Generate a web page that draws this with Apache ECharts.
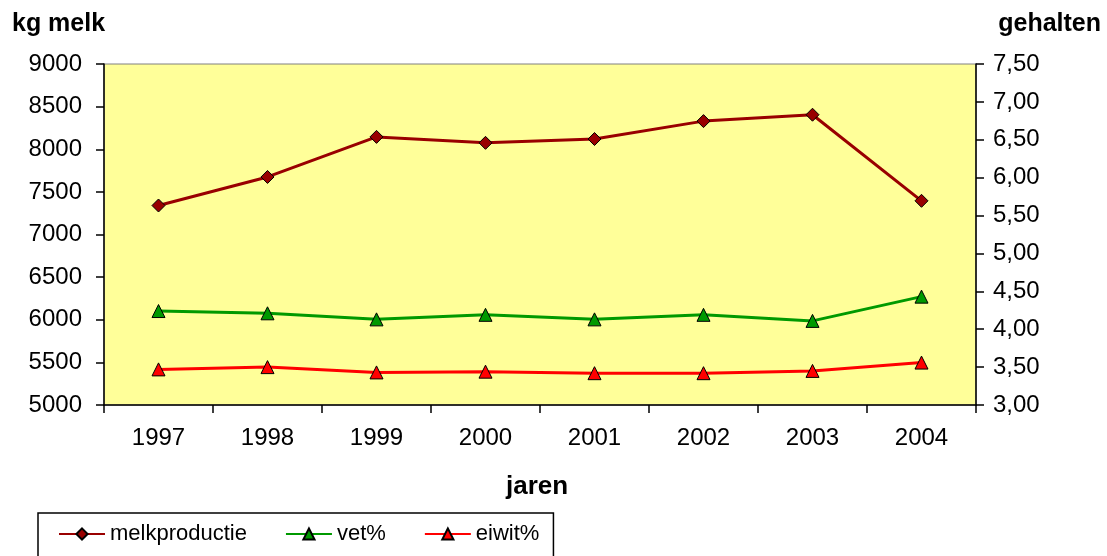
<!DOCTYPE html>
<html>
<head>
<meta charset="utf-8">
<script src="https://cdn.jsdelivr.net/npm/echarts@6/dist/echarts.min.js"></script>
<style>
html,body{margin:0;padding:0;background:#fff;}
#c{width:1107px;height:556px;}
</style>
</head>
<body>
<div id="c"></div>
<script>
const years = ['1997','1998','1999','2000','2001','2002','2003','2004'];
const melkproductie = [7340, 7675, 8145, 8075, 8120, 8330, 8405, 7395];
const vet = [4.24, 4.21, 4.13, 4.19, 4.13, 4.19, 4.11, 4.43];
const eiwit = [3.47, 3.50, 3.43, 3.44, 3.42, 3.42, 3.45, 3.56];
const leftTicks = {min: 5000, max: 9000, interval: 500};
const rightTicks = {min: 3.0, max: 7.5, interval: 0.5};

const FONT = '"Liberation Sans", Arial, sans-serif';
const chart = echarts.init(document.getElementById('c'));
const tickStyle = {color: '#000', width: 1.5};
chart.setOption({
  animation: false,
  grid: {left: 104, right: 131, top: 64, bottom: 151, show: true,
         backgroundColor: '#FFFF99', borderColor: '#808080', borderWidth: 1},
  xAxis: {
    type: 'category', data: years, position: 'bottom', boundaryGap: true,
    axisLine: {show: true, lineStyle: {color: '#000', width: 1.5}}, splitLine: {show: false},
    axisTick: {show: true, inside: false, length: 8, lineStyle: tickStyle},
    axisLabel: {color: '#000', fontFamily: FONT, fontSize: 24, margin: 21}
  },
  yAxis: [
    {
      type: 'value', position: 'left',
      min: leftTicks.min, max: leftTicks.max, interval: leftTicks.interval,
      axisLine: {show: true, lineStyle: {color: '#000', width: 1.5}}, splitLine: {show: false},
      axisTick: {show: true, inside: false, length: 8, lineStyle: tickStyle},
      axisLabel: {color: '#000', fontFamily: FONT, fontSize: 24, margin: 22, formatter: v => String(v)}
    },
    {
      type: 'value', position: 'right',
      min: rightTicks.min, max: rightTicks.max, interval: rightTicks.interval,
      axisLine: {show: true, lineStyle: {color: '#000', width: 1.5}}, splitLine: {show: false},
      axisTick: {show: true, inside: false, length: 8, lineStyle: tickStyle},
      axisLabel: {color: '#000', fontFamily: FONT, fontSize: 24, margin: 17,
        formatter: v => v.toFixed(2).replace('.', ',')}
    }
  ],
  legend: {
    left: 38, top: 513, orient: 'horizontal',
    padding: [10, 14, 30, 20], itemGap: 38, itemWidth: 46, itemHeight: 14,
    borderColor: '#000', borderWidth: 1.5, backgroundColor: '#fff',
    textStyle: {color: '#000', fontFamily: FONT, fontSize: 22},
    data: ['melkproductie', 'vet%', 'eiwit%']
  },
  graphic: [
    {type: 'text', left: 12, top: 12, style: {text: 'kg melk', font: 'bold 25px ' + FONT, fill: '#000'}},
    {type: 'text', right: 6, top: 12, style: {text: 'gehalten', font: 'bold 25px ' + FONT, fill: '#000'}},
    {type: 'text', left: 506, top: 474, style: {text: 'jaren', font: 'bold 26px ' + FONT, fill: '#000'}}
  ],
  series: [
    {name: 'melkproductie', type: 'line', data: melkproductie, yAxisIndex: 0,
     symbol: 'diamond', symbolSize: 13,
     lineStyle: {color: '#990000', width: 3},
     itemStyle: {color: '#990000', borderColor: '#000', borderWidth: 1}},
    {name: 'vet%', type: 'line', data: vet, yAxisIndex: 1,
     symbol: 'triangle', symbolSize: 13,
     lineStyle: {color: '#009900', width: 3},
     itemStyle: {color: '#009900', borderColor: '#000', borderWidth: 1}},
    {name: 'eiwit%', type: 'line', data: eiwit, yAxisIndex: 1,
     symbol: 'triangle', symbolSize: 13,
     lineStyle: {color: '#FF0000', width: 3},
     itemStyle: {color: '#FF0000', borderColor: '#000', borderWidth: 1}}
  ]
});
</script>
</body>
</html>
